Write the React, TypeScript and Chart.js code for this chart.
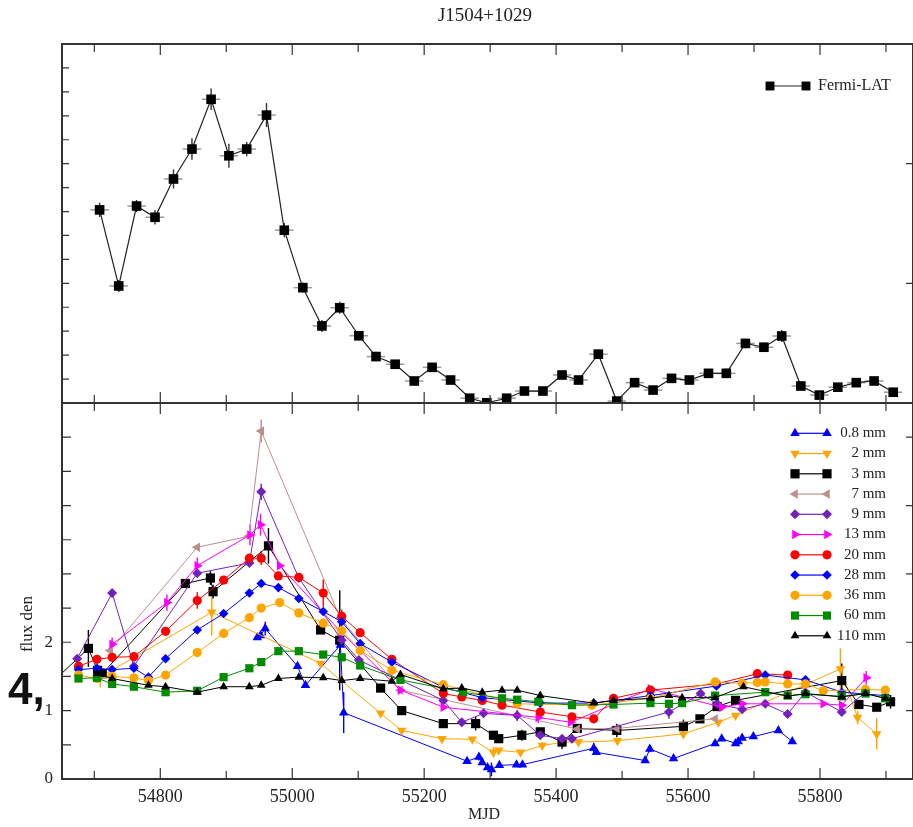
import React, { useEffect, useRef } from "react";
import { Chart, registerables } from "chart.js";

Chart.register(...registerables);

type Pt = [number, number, number?];

// ---------------- axis settings ----------------
const X_MIN = 54651;
const X_MAX = 55941;
const X_TICK_LABELS = [54800, 55000, 55200, 55400, 55600, 55800];
const Y_TICK_LABELS = [0, 1, 2];
const TITLE = "J1504+1029";
const X_TITLE = "MJD";
const Y_TITLE = "flux den";

// ---------------- top panel: Fermi-LAT (arbitrary units) ----------------
const FERMI_LABEL = "Fermi-LAT";
const FERMI_HALF_BIN = 14;
const FERMI: Pt[] = [
  [54708, 8.07, 0.3], [54737, 4.89, 0.25], [54764, 8.23, 0.25], [54792, 7.76, 0.3],
  [54820, 9.36, 0.4], [54848, 10.61, 0.45], [54877, 12.69, 0.45], [54904, 10.33, 0.5],
  [54931, 10.61, 0.3], [54961, 12.03, 0.5], [54988, 7.22, 0.3], [55016, 4.82, 0.2],
  [55045, 3.22, 0.25], [55072, 3.98, 0.25], [55101, 2.81, 0.2], [55127, 1.94, 0.2],
  [55156, 1.62, 0.15], [55185, 0.92, 0.15], [55212, 1.49, 0.15], [55240, 0.96, 0.15],
  [55269, 0.2, 0.1], [55295, 0.01, 0.1], [55325, 0.2, 0.1], [55352, 0.5, 0.1],
  [55380, 0.5, 0.1], [55409, 1.17, 0.15], [55434, 0.96, 0.15], [55464, 2.04, 0.2],
  [55492, 0.08, 0.1], [55519, 0.85, 0.15], [55547, 0.54, 0.1], [55575, 1.03, 0.15],
  [55602, 0.96, 0.15], [55631, 1.24, 0.15], [55658, 1.24, 0.2], [55687, 2.49, 0.2],
  [55715, 2.33, 0.2], [55742, 2.8, 0.25], [55771, 0.71, 0.15], [55799, 0.33, 0.15],
  [55827, 0.66, 0.15], [55855, 0.85, 0.1], [55882, 0.92, 0.1], [55911, 0.45, 0.1],
];

// ---------------- bottom panel: radio / mm flux densities ----------------
const S_08MM: Pt[] = [
  [54947, 2.07], [54952, 2.1], [54959, 2.2, 0.1], [55008, 1.65], [55020, 1.37],
  [55073, 1.96], [55078, 0.97, 0.3], [55265, 0.26], [55283, 0.32, 0.05], [55288, 0.24],
  [55296, 0.17], [55302, 0.14, 0.1], [55314, 0.2], [55340, 0.21], [55349, 0.21],
  [55457, 0.45, 0.08], [55461, 0.39], [55535, 0.27], [55542, 0.44, 0.05], [55578, 0.3],
  [55641, 0.52], [55651, 0.59], [55672, 0.52], [55676, 0.55], [55682, 0.6],
  [55699, 0.62], [55737, 0.71], [55758, 0.55],
];
const S_2MM: Pt[] = [
  [54709, 1.49, 0.15], [54878, 2.44, 0.34], [55043, 1.69], [55134, 0.96], [55166, 0.71],
  [55227, 0.59], [55273, 0.58], [55305, 0.39, 0.08], [55313, 0.42], [55346, 0.39],
  [55379, 0.49, 0.05], [55411, 0.54, 0.05], [55434, 0.54], [55493, 0.56], [55593, 0.66],
  [55646, 0.83], [55672, 0.93], [55831, 1.61, 0.3], [55857, 0.9, 0.1], [55886, 0.66, 0.23],
];
const S_3MM: Pt[] = [
  [54640, 1.45], [54691, 1.91, 0.27], [54705, 1.59], [54712, 1.54], [54838, 2.86],
  [54876, 2.94, 0.1], [54880, 2.74, 0.1], [54964, 3.41, 0.26], [55043, 2.18],
  [55072, 2.03, 0.73], [55134, 1.33], [55166, 1.0], [55229, 0.81], [55278, 0.81, 0.1],
  [55305, 0.64], [55313, 0.59], [55348, 0.64, 0.08], [55376, 0.69], [55409, 0.54, 0.1],
  [55432, 0.74], [55492, 0.71, 0.1], [55593, 0.77, 0.1], [55618, 0.88], [55644, 1.06],
  [55672, 1.15], [55833, 1.44, 0.25], [55859, 1.09], [55886, 1.05], [55907, 1.13, 0.1],
];
const S_7MM: Pt[] = [
  [54724, 1.88], [54856, 3.39], [54934, 3.55], [54953, 5.09, 0.17], [55073, 2.35],
  [55164, 1.3], [55432, 0.73], [55492, 0.74], [55641, 0.88],
];
const S_9MM: Pt[] = [
  [54674, 1.76], [54727, 2.72], [54760, 1.65], [54856, 3.01], [54935, 3.16],
  [54953, 4.2, 0.12], [55010, 2.94], [55075, 2.03], [55101, 1.74], [55229, 1.15, 0.08],
  [55257, 0.83], [55290, 0.96], [55341, 0.93, 0.08], [55376, 0.64], [55409, 0.59],
  [55424, 0.59], [55571, 0.98, 0.1], [55619, 1.25], [55644, 1.1], [55682, 1.02],
  [55717, 1.1], [55751, 0.95], [55778, 1.27], [55833, 0.98], [55869, 1.27],
];
const S_13MM: Pt[] = [
  [54727, 1.97, 0.1], [54810, 2.58, 0.12], [54856, 3.12, 0.12], [54936, 3.57, 0.15],
  [54952, 3.72, 0.16], [54981, 3.12], [55074, 2.15], [55164, 1.3], [55229, 1.05],
  [55373, 0.9, 0.08], [55422, 0.83], [55543, 1.32], [55651, 1.05, 0.05], [55682, 1.1],
  [55805, 1.1], [55833, 1.08], [55870, 1.48, 0.1],
];
const S_20MM: Pt[] = [
  [54676, 1.65], [54704, 1.75], [54727, 1.78], [54760, 1.79], [54808, 2.16],
  [54856, 2.61, 0.12], [54896, 2.91], [54935, 3.23], [54953, 3.23, 0.1], [54979, 2.97],
  [55010, 2.95], [55047, 2.72, 0.2], [55075, 2.38, 0.1], [55103, 2.14], [55151, 1.75],
  [55229, 1.25], [55257, 1.2], [55288, 1.15], [55318, 1.08], [55376, 0.98],
  [55424, 0.91], [55457, 0.88], [55487, 1.18], [55543, 1.3], [55643, 1.39],
  [55705, 1.54], [55751, 1.52],
];
const S_28MM: Pt[] = [
  [54676, 1.6], [54704, 1.62], [54727, 1.6], [54760, 1.62], [54782, 1.49],
  [54808, 1.76], [54856, 2.18], [54896, 2.42], [54935, 2.72], [54953, 2.86],
  [54979, 2.8], [55010, 2.64], [55047, 2.45], [55075, 2.3], [55103, 1.98],
  [55151, 1.71], [55229, 1.34], [55288, 1.19], [55376, 1.11], [55457, 1.11],
  [55543, 1.22], [55643, 1.36], [55717, 1.52], [55778, 1.45], [55833, 1.27], [55899, 1.22],
];
const S_36MM: Pt[] = [
  [54676, 1.52], [54704, 1.47], [54727, 1.5], [54760, 1.48], [54782, 1.44],
  [54808, 1.52], [54856, 1.85], [54896, 2.13], [54935, 2.36], [54953, 2.5],
  [54981, 2.58], [55010, 2.43], [55047, 2.28], [55075, 2.17], [55103, 1.88],
  [55151, 1.59], [55229, 1.38], [55341, 1.1], [55454, 1.08], [55543, 1.18],
  [55641, 1.42], [55682, 1.4], [55705, 1.41], [55717, 1.42], [55751, 1.39],
  [55778, 1.39], [55805, 1.29], [55869, 1.31], [55899, 1.3],
];
const S_60MM: Pt[] = [
  [54676, 1.47], [54704, 1.48], [54727, 1.39], [54760, 1.35], [54808, 1.27],
  [54856, 1.29], [54896, 1.49], [54935, 1.62], [54953, 1.71], [54979, 1.87],
  [55010, 1.87], [55047, 1.82], [55075, 1.78], [55103, 1.66], [55164, 1.45],
  [55259, 1.27], [55318, 1.18], [55341, 1.16], [55373, 1.13], [55424, 1.08],
  [55487, 1.09], [55543, 1.11], [55571, 1.1], [55591, 1.11], [55641, 1.22],
  [55717, 1.27], [55751, 1.22], [55778, 1.24], [55833, 1.21], [55869, 1.25], [55899, 1.18],
];
const S_110MM: Pt[] = [
  [54704, 1.54], [54727, 1.47], [54782, 1.37], [54808, 1.35], [54856, 1.27],
  [54896, 1.35], [54935, 1.35], [54953, 1.37], [54979, 1.47], [55010, 1.49],
  [55047, 1.48], [55075, 1.44], [55103, 1.47], [55151, 1.43], [55164, 1.53],
  [55229, 1.32], [55257, 1.33], [55288, 1.27], [55318, 1.3], [55341, 1.3],
  [55376, 1.22], [55457, 1.11], [55487, 1.15], [55543, 1.18], [55571, 1.22],
  [55591, 1.19], [55641, 1.19], [55684, 1.35], [55751, 1.21], [55778, 1.25],
  [55833, 1.2], [55869, 1.25], [55899, 1.18],
];

const SERIES_LABELS = ["0.8 mm", "2 mm", "3 mm", "7 mm", "9 mm", "13 mm", "20 mm", "28 mm", "36 mm", "60 mm", "110 mm"];
const SERIES_DATA = [S_08MM, S_2MM, S_3MM, S_7MM, S_9MM, S_13MM, S_20MM, S_28MM, S_36MM, S_60MM, S_110MM];

// ---------------- styles ----------------
const SERIES_STYLE = [
  { color: "#0000ff", shape: "triangle", rot: 0, r: 5.5 },
  { color: "#ffa500", shape: "triangle", rot: 180, r: 5.5 },
  { color: "#000000", shape: "rect", rot: 0, r: 6.5 },
  { color: "#bc8f8f", shape: "triangle", rot: 270, r: 5.5 },
  { color: "#7221bc", shape: "rectRot", rot: 0, r: 5 },
  { color: "#ff00ff", shape: "triangle", rot: 90, r: 5.5 },
  { color: "#ff0000", shape: "circle", rot: 0, r: 4.6 },
  { color: "#0000ff", shape: "rectRot", rot: 0, r: 4.8 },
  { color: "#ffa500", shape: "circle", rot: 0, r: 4.6 },
  { color: "#008b00", shape: "rect", rot: 0, r: 5.8 },
  { color: "#000000", shape: "triangle", rot: 0, r: 5 },
];

const SERIF = '"Liberation Serif", "Times New Roman", serif';
const W = 913;
const TOP_H = 410;
const BOT_TOP = 400;
const BOT_H = 427;

function drawMarker(ctx: CanvasRenderingContext2D, shape: string, rotDeg: number, x: number, y: number, r: number, color: string) {
  ctx.save();
  ctx.fillStyle = color;
  ctx.beginPath();
  if (shape === "rect") {
    const s = r * Math.SQRT1_2;
    ctx.rect(x - s, y - s, 2 * s, 2 * s);
  } else if (shape === "rectRot") {
    ctx.moveTo(x, y - r);
    ctx.lineTo(x + r, y);
    ctx.lineTo(x, y + r);
    ctx.lineTo(x - r, y);
    ctx.closePath();
  } else if (shape === "circle") {
    ctx.arc(x, y, r, 0, Math.PI * 2);
  } else {
    let rad = (rotDeg * Math.PI) / 180;
    ctx.moveTo(x + Math.sin(rad) * r, y - Math.cos(rad) * r);
    rad += (2 * Math.PI) / 3;
    ctx.lineTo(x + Math.sin(rad) * r, y - Math.cos(rad) * r);
    rad += (2 * Math.PI) / 3;
    ctx.lineTo(x + Math.sin(rad) * r, y - Math.cos(rad) * r);
    ctx.closePath();
  }
  ctx.fill();
  ctx.restore();
}

function framePlugin(id: string, yMinor: number, yRight: number, yLen: number) {
  return {
    id,
    afterDraw(chart: any) {
      const { ctx, chartArea: a, scales } = chart;
      const xs = scales.x;
      const ys = scales.y;
      ctx.save();
      ctx.strokeStyle = "#333";
      ctx.lineWidth = 1.2;
      ctx.beginPath();
      for (let v = 54700; v <= X_MAX; v += 100) {
        const px = xs.getPixelForValue(v);
        const len = v % 200 === 0 ? 11 : 8;
        ctx.moveTo(px, a.top);
        ctx.lineTo(px, a.top + len);
        ctx.moveTo(px, a.bottom);
        ctx.lineTo(px, a.bottom - len);
      }
      for (let v = yMinor; v < ys.max - 1e-6; v += yMinor) {
        const py = ys.getPixelForValue(v);
        ctx.moveTo(a.left, py);
        ctx.lineTo(a.left + yLen, py);
      }
      for (let v = yRight; v < ys.max - 1e-6; v += yRight) {
        const py = ys.getPixelForValue(v);
        ctx.moveTo(a.right, py);
        ctx.lineTo(a.right - 7, py);
      }
      ctx.stroke();
      ctx.lineWidth = 2;
      ctx.strokeRect(a.left, a.top, a.right - a.left, a.bottom - a.top);
      ctx.restore();
    },
  };
}

const errorBarPlugin = {
  id: "errbars",
  beforeDatasetsDraw(chart: any) {
    const { ctx, chartArea: a, scales } = chart;
    const xs = scales.x;
    const ys = scales.y;
    ctx.save();
    ctx.beginPath();
    ctx.rect(a.left, a.top, a.right - a.left, a.bottom - a.top);
    ctx.clip();
    chart.data.datasets.forEach((ds: any) => {
      const errs: number[] = ds.errs || [];
      ds.data.forEach((p: any, j: number) => {
        const px = xs.getPixelForValue(p.x);
        const py = ys.getPixelForValue(p.y);
        if (ds.xerr) {
          ctx.strokeStyle = "#9a9a9a";
          ctx.lineWidth = 1.5;
          ctx.beginPath();
          ctx.moveTo(xs.getPixelForValue(p.x - ds.xerr), py);
          ctx.lineTo(xs.getPixelForValue(p.x + ds.xerr), py);
          ctx.stroke();
        }
        const e = errs[j];
        if (e) {
          ctx.strokeStyle = ds.errColor || ds.borderColor;
          ctx.lineWidth = 1.4;
          ctx.beginPath();
          ctx.moveTo(px, ys.getPixelForValue(p.y - e));
          ctx.lineTo(px, ys.getPixelForValue(p.y + e));
          ctx.stroke();
        }
      });
    });
    ctx.restore();
  },
};

const topTextPlugin = {
  id: "topText",
  afterDraw(chart: any) {
    const ctx = chart.ctx;
    ctx.save();
    ctx.fillStyle = "#222";
    ctx.font = `19px ${SERIF}`;
    ctx.textAlign = "center";
    ctx.textBaseline = "middle";
    ctx.fillText(TITLE, 485, 16);
    // legend
    ctx.strokeStyle = "#222";
    ctx.lineWidth = 1.2;
    ctx.beginPath();
    ctx.moveTo(770, 86);
    ctx.lineTo(806, 86);
    ctx.stroke();
    drawMarker(ctx, "rect", 0, 770, 86, 6.3, "#000");
    drawMarker(ctx, "rect", 0, 806, 86, 6.3, "#000");
    ctx.font = `16px ${SERIF}`;
    ctx.textAlign = "left";
    ctx.fillText(FERMI_LABEL, 818, 86);
    ctx.restore();
  },
};

const bottomTextPlugin = {
  id: "bottomText",
  afterDraw(chart: any) {
    const { ctx, chartArea: a, scales } = chart;
    const xs = scales.x;
    const ys = scales.y;
    ctx.save();
    ctx.fillStyle = "#222";
    ctx.font = `18px ${SERIF}`;
    ctx.textAlign = "center";
    ctx.textBaseline = "middle";
    X_TICK_LABELS.forEach((v) => ctx.fillText(String(v), xs.getPixelForValue(v), a.bottom + 18));
    ctx.font = `17px ${SERIF}`;
    ctx.textAlign = "right";
    Y_TICK_LABELS.forEach((v) => ctx.fillText(String(v), 53, ys.getPixelForValue(v)));
    ctx.textAlign = "center";
    ctx.font = `16px ${SERIF}`;
    ctx.fillText(X_TITLE, 484, a.bottom + 36);
    ctx.save();
    ctx.translate(28, 624 - BOT_TOP);
    ctx.rotate(-Math.PI / 2);
    ctx.font = `17px ${SERIF}`;
    ctx.fillText(Y_TITLE, 0, 0);
    ctx.restore();
    // legend
    ctx.font = `15px ${SERIF}`;
    ctx.textAlign = "right";
    SERIES_LABELS.forEach((lab, i) => {
      const st = SERIES_STYLE[i];
      const y = 433.3 - BOT_TOP + i * 20.25;
      ctx.strokeStyle = st.color;
      ctx.lineWidth = 1.2;
      ctx.beginPath();
      ctx.moveTo(795, y);
      ctx.lineTo(827, y);
      ctx.stroke();
      drawMarker(ctx, st.shape, st.rot, 795, y, st.r, st.color);
      drawMarker(ctx, st.shape, st.rot, 827, y, st.r, st.color);
      ctx.fillStyle = "#222";
      ctx.fillText(lab, 886, y);
    });
    ctx.restore();
  },
};

function toXY(pts: Pt[]) {
  return pts.map((p) => ({ x: p[0], y: p[1] }));
}
function toErr(pts: Pt[]) {
  return pts.map((p) => p[2] || 0);
}

export default function App() {
  const topRef = useRef<HTMLCanvasElement>(null);
  const botRef = useRef<HTMLCanvasElement>(null);

  useEffect(() => {
    const common = {
      responsive: false,
      animation: false as const,
      events: [] as any[],
      plugins: { legend: { display: false }, tooltip: { enabled: false }, title: { display: false } },
    };
    const top = new Chart(topRef.current!, {
      type: "line",
      data: {
        datasets: [
          {
            label: FERMI_LABEL,
            data: toXY(FERMI),
            errs: toErr(FERMI),
            xerr: FERMI_HALF_BIN,
            errColor: "#333",
            borderColor: "#222",
            backgroundColor: "#000",
            borderWidth: 1.2,
            pointStyle: "rect",
            pointRadius: 6.8,
            pointBorderWidth: 0,
            tension: 0,
            clip: 0,
          } as any,
        ],
      },
      options: {
        ...common,
        layout: { autoPadding: false, padding: { left: 62, right: 0, top: 44, bottom: TOP_H - 403 } },
        scales: {
          x: { type: "linear", min: X_MIN, max: X_MAX, display: false },
          y: { type: "linear", min: 0, max: 15, display: false },
        },
      } as any,
      plugins: [errorBarPlugin, framePlugin("frameTop", 1, 5, 7), topTextPlugin],
    });

    const datasets = SERIES_DATA.map((pts, i) => {
      const st = SERIES_STYLE[i];
      return {
        label: SERIES_LABELS[i],
        data: toXY(pts),
        errs: toErr(pts),
        borderColor: st.color,
        backgroundColor: st.color,
        borderWidth: 1,
        pointStyle: st.shape,
        pointRotation: st.rot,
        pointRadius: st.r,
        pointBorderWidth: 0,
        tension: 0,
        clip: 0,
        order: SERIES_DATA.length - i,
      } as any;
    });
    const bot = new Chart(botRef.current!, {
      type: "line",
      data: { datasets },
      options: {
        ...common,
        layout: { autoPadding: false, padding: { left: 62, right: 0, top: 403 - BOT_TOP, bottom: BOT_TOP + BOT_H - 779 } },
        scales: {
          x: { type: "linear", min: X_MIN, max: X_MAX, display: false },
          y: { type: "linear", min: 0, max: 5.5, display: false },
        },
      } as any,
      plugins: [errorBarPlugin, framePlugin("frameBot", 0.5, 1, 9), bottomTextPlugin],
    });
    return () => {
      top.destroy();
      bot.destroy();
    };
  }, []);

  return (
    <div style={{ position: "absolute", left: 0, top: 0, width: W, height: 827, background: "#fff", overflow: "hidden" }}>
      <canvas ref={topRef} width={W} height={TOP_H} style={{ position: "absolute", left: 0, top: 0 }} />
      <canvas ref={botRef} width={W} height={BOT_H} style={{ position: "absolute", left: 0, top: BOT_TOP }} />
      <div
        style={{
          position: "absolute",
          left: 8,
          top: 667,
          fontFamily: '"Liberation Sans", Arial, sans-serif',
          fontSize: 44,
          fontWeight: 700,
          lineHeight: "44px",
          color: "#111",
        }}
      >
        4,
      </div>
    </div>
  );
}
